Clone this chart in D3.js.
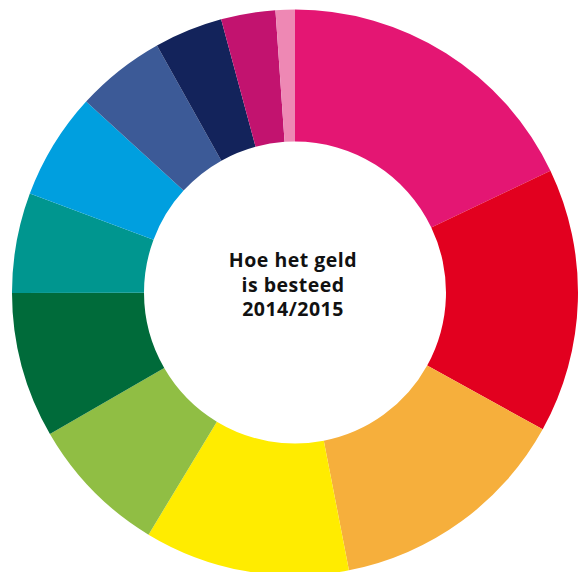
<!DOCTYPE html>
<html>
<head>
<meta charset="utf-8">
<script src="https://cdn.jsdelivr.net/npm/d3@7"></script>
<style>
  body { margin: 0; background: #fff; }
  svg { display: block; }
</style>
</head>
<body>
<script>
    // Categories (not labelled in the picture), share of spending in %
    var categories = ["a", "b", "c", "d", "e", "f", "g", "h", "i", "j", "k", "l"];
    var values = [17.9, 15.1, 13.9, 11.7, 8.0, 8.3, 5.7, 6.1, 5.1, 3.9, 3.1, 1.1];
    var colors = ["#E41673", "#E2001F", "#F6AF3C", "#FFEC00", "#90BE44", "#006B3A",
                  "#00968F", "#009FDF", "#3C5A97", "#13235B", "#C2136F", "#EE88B4"];
    var titleLines = ["Hoe het geld", "is besteed", "2014/2015"];

    var w = 579;
    var h = 572;
    var cx = 295, cy = 292.5;
    var outerR = 283, innerR = 151;

    var svg = d3.select("body")
                .append("svg")
                .attr("width", w)
                .attr("height", h);

    var g = svg.append("g")
               .attr("transform", `translate(${cx}, ${cy})`);

    var data = categories.map(function(c, i) {
        return { name: c, value: values[i], color: colors[i] };
    });

    // keep the order as in the picture, clockwise from 12 o'clock
    var pie = d3.pie()
                .sort(null)
                .value(function(d) { return d.value; });

    var arc = d3.arc()
                .innerRadius(innerR)
                .outerRadius(outerR);

    g.selectAll("path")
     .data(pie(data))
     .enter()
     .append("path")
     .attr("d", arc)
     .attr("fill", function(d) { return d.data.color; });

    g.selectAll("text")
     .data(titleLines)
     .enter()
     .append("text")
     .text(function(d) { return d; })
     .attr("x", -2)
     .attr("y", function(d, i) { return -25.5 + i * 24.7; })
     .attr("text-anchor", "middle")
     .attr("font-family", "'Open Sans', sans-serif")
     .attr("font-weight", 700)
     .attr("font-size", "19.5px")
     .attr("letter-spacing", "0.5px")
     .attr("fill", "#111");
</script>
</body>
</html>
